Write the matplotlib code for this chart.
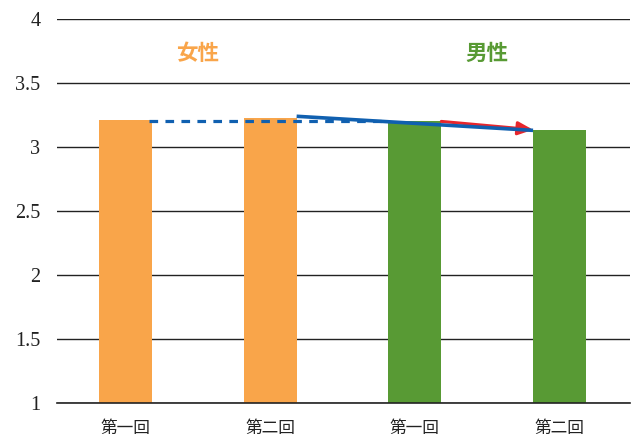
import matplotlib
matplotlib.use("Agg")
import matplotlib.pyplot as plt

categories = ["第一回", "第二回", "第一回", "第二回"]
values = [3.21, 3.23, 3.20, 3.13]
group_labels = ["女性", "男性"]
bar_colors = ["#F9A54A", "#F9A54A", "#589A34", "#589A34"]
group_colors = ["#F9A54A", "#589A34"]
yticks = [1, 1.5, 2, 2.5, 3, 3.5, 4]
ytick_labels = ["1", "1.5", "2", "2.5", "3", "3.5", "4"]

fig = plt.figure(figsize=(6.32, 4.41), dpi=100)
ax = fig.add_axes([57/632, 38/441, 573/632, 384/441])

x = list(range(len(categories)))
w = 0.366
ax.bar(x, values, width=w, color=bar_colors, zorder=2)
ax.set_ylim(1, 4)
ax.set_xlim(-0.473, 3.487)
ax.set_yticks(yticks)
ax.set_yticklabels(ytick_labels, fontfamily="Liberation Serif", fontsize=14.5, color="#222222")
ax.set_xticks(x)
ax.set_xticklabels(categories, fontfamily=["Noto Sans CJK JP", "DejaVu Sans"], fontsize=12, color="#222222")
ax.tick_params(axis="y", length=0, pad=12)
ax.tick_params(axis="x", length=0, pad=12)
for s in ax.spines.values():
    s.set_visible(False)
ax.grid(axis="y", color="#222222", linewidth=1.0, zorder=1)
ax.set_axisbelow(True)
ax.axhline(1, color="#222222", linewidth=1.2, zorder=6, clip_on=False)

# group labels
for i, (lab, col) in enumerate(zip(group_labels, group_colors)):
    ax.text(2 * i + 0.5, 3.734, lab, ha="center", va="center", fontsize=15.5,
            fontweight="bold", color=col, fontfamily=["Noto Sans CJK JP", "DejaVu Sans"])

# dashed blue line (female level carried forward)
ax.plot([x[0] + w / 2 - 0.02, x[2] - w / 2 - 0.02], [values[0] - 0.01, values[0] - 0.01],
        color="#1060B0", linewidth=2.3, linestyle=(0, (2.7, 2.3)),
        dash_capstyle="butt", zorder=3)
# solid blue line from female 2nd to male 2nd
ax.plot([x[1] + w / 2, x[3] - w / 2], [values[1] + 0.01, values[3]],
        color="#1060B0", linewidth=2.6, zorder=5, solid_capstyle="butt")
# red arrow male 1st -> male 2nd
ax.annotate("", xy=(x[3] - w / 2, values[3] + 0.005), xytext=(x[2] + w / 2, values[2]),
            arrowprops=dict(arrowstyle="-|>,head_length=0.9,head_width=0.4",
                            color="#E8262C", linewidth=2.2, shrinkA=0, shrinkB=0),
            zorder=4)

fig.savefig("out.png", dpi=100)
